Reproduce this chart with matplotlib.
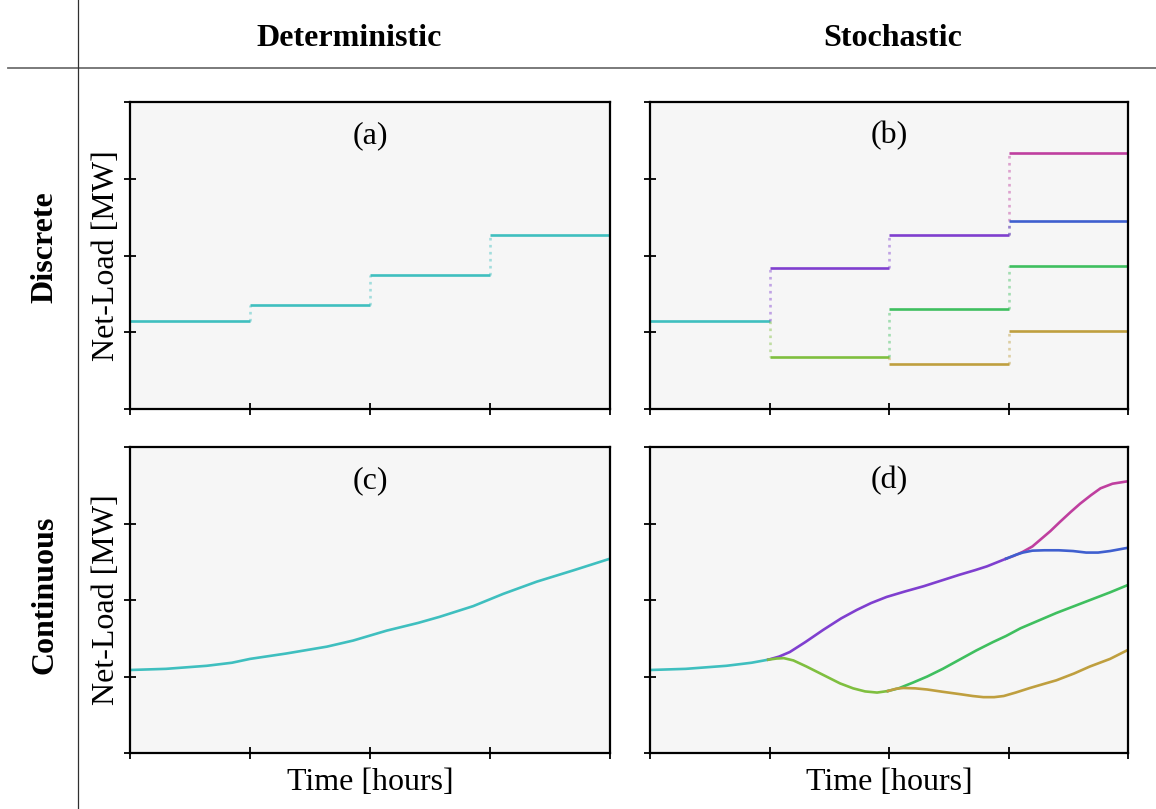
import matplotlib
matplotlib.use("Agg")
import matplotlib.pyplot as plt
from matplotlib.lines import Line2D

plt.rcParams['font.family'] = ['Liberation Serif', 'DejaVu Serif']

# colores de cada escenario
c_cyan = '#3fbfbf'
c_purple = '#7f3fcf'
c_lime = '#7fbf3f'
c_green = '#3fbf5f'
c_gold = '#bf9f3f'
c_magenta = '#bf3f9f'
c_blue = '#3f5fcf'

col_titles = ['Deterministic', 'Stochastic']
row_titles = ['Discrete', 'Continuous']
panel_tags = ['(a)', '(b)', '(c)', '(d)']
ylab = 'Net-Load [MW]'
xlab = 'Time [hours]'

# (a) escalones deterministas: un valor por hora
det_steps = [1.15, 1.36, 1.75, 2.27]

# (b) arbol de escenarios discreto: (hora inicio, valor, color, valor del padre)
sto_steps = [
    (0, 1.15, c_cyan, None),
    (1, 1.84, c_purple, 1.15),
    (1, 0.68, c_lime, 1.15),
    (2, 2.27, c_purple, 1.84),
    (2, 1.30, c_green, 0.68),
    (2, 0.59, c_gold, 0.68),
    (3, 3.34, c_magenta, 2.27),
    (3, 2.45, c_blue, 2.27),
    (3, 1.86, c_green, 1.30),
    (3, 1.02, c_gold, 0.59),
]

# (c) curva continua determinista
c_x = [0, 0.3, 0.64, 0.85, 1.0, 1.3, 1.64, 1.86, 2.14, 2.4, 2.58, 2.86, 3.11, 3.39, 3.7, 4.0]
c_y = [1.085, 1.10, 1.14, 1.18, 1.23, 1.30, 1.39, 1.47, 1.60, 1.70, 1.78, 1.92, 2.08, 2.24, 2.39, 2.54]

# (d) curvas continuas estocasticas
cyan_x = [0, 0.3, 0.64, 0.85, 0.99]
cyan_y = [1.085, 1.10, 1.14, 1.18, 1.22]
purple_x = [0.99, 1.08, 1.17, 1.30, 1.45, 1.60, 1.73, 1.85, 1.98, 2.13, 2.29,
            2.45, 2.59, 2.72, 2.82, 2.90, 2.98]
purple_y = [1.22, 1.26, 1.32, 1.45, 1.61, 1.76, 1.87, 1.96, 2.04, 2.11, 2.18,
            2.26, 2.33, 2.39, 2.44, 2.49, 2.54]
magenta_x = [2.98, 3.05, 3.12, 3.20, 3.26, 3.35, 3.43, 3.52, 3.60, 3.69, 3.77, 3.87, 3.99]
magenta_y = [2.54, 2.58, 2.63, 2.70, 2.78, 2.90, 3.02, 3.15, 3.26, 3.37, 3.46, 3.52, 3.55]
blue_x = [2.98, 3.06, 3.12, 3.20, 3.30, 3.42, 3.54, 3.65, 3.75, 3.85, 3.99]
blue_y = [2.54, 2.59, 2.62, 2.645, 2.65, 2.65, 2.64, 2.62, 2.62, 2.64, 2.68]
lime_x = [0.99, 1.06, 1.12, 1.20, 1.31, 1.45, 1.59, 1.70, 1.80, 1.90, 1.99]
lime_y = [1.22, 1.235, 1.24, 1.21, 1.13, 1.02, 0.91, 0.845, 0.805, 0.79, 0.81]
green_x = [1.99, 2.08, 2.20, 2.32, 2.45, 2.59, 2.73, 2.87, 2.98, 3.10, 3.25,
           3.40, 3.55, 3.70, 3.85, 3.99]
green_y = [0.81, 0.845, 0.92, 1.00, 1.10, 1.22, 1.34, 1.45, 1.53, 1.63, 1.73,
           1.83, 1.92, 2.01, 2.10, 2.19]
gold_x = [1.99, 2.06, 2.12, 2.22, 2.32, 2.45, 2.59, 2.70, 2.79, 2.88, 2.96,
          3.06, 3.18, 3.30, 3.40, 3.55, 3.68, 3.85, 3.99]
gold_y = [0.81, 0.84, 0.85, 0.845, 0.83, 0.80, 0.77, 0.745, 0.73, 0.73, 0.745,
          0.79, 0.85, 0.905, 0.95, 1.04, 1.13, 1.23, 1.34]

W, H = 1156, 809
fig = plt.figure(figsize=(W / 100, H / 100), dpi=100)

def px_axes(l, t, r, b):
    return fig.add_axes([l / W, 1 - b / H, (r - l) / W, (b - t) / H])

ax_a = px_axes(130, 102, 610, 409)
ax_b = px_axes(650, 102, 1128, 409)
ax_c = px_axes(130, 447, 610, 753)
ax_d = px_axes(650, 447, 1128, 753)
axes = [ax_a, ax_b, ax_c, ax_d]

lw = 1.9
for ax, tag in zip(axes, panel_tags):
    ax.set_facecolor('#f6f6f6')
    ax.set_xlim(0, 4)
    ax.set_ylim(0, 4)
    ax.set_xticks([0, 1, 2, 3, 4])
    ax.set_yticks([0, 1, 2, 3, 4])
    ax.set_xticklabels([])
    ax.set_yticklabels([])
    ax.tick_params(direction='inout', length=8, width=1.3, color='black')
    for s in ax.spines.values():
        s.set_linewidth(1.6)
    ax.text(0.5, 0.89, tag, transform=ax.transAxes, ha='center', va='center',
            fontsize=23)

# (a)
for i, v in enumerate(det_steps):
    ax_a.plot([i, i + 1], [v, v], color=c_cyan, lw=lw, solid_capstyle='butt')
    if i > 0:
        ax_a.plot([i, i], [det_steps[i - 1], v], color=c_cyan, lw=lw,
                  ls=':', alpha=0.45)

# (b)
for t0, v, col, parent in sto_steps:
    ax_b.plot([t0, t0 + 1], [v, v], color=col, lw=lw, solid_capstyle='butt')
    if parent is not None:
        ax_b.plot([t0, t0], [parent, v], color=col, lw=lw, ls=':', alpha=0.45)

# (c)
ax_c.plot(c_x, c_y, color=c_cyan, lw=lw)

# (d)
ax_d.plot(cyan_x, cyan_y, color=c_cyan, lw=lw)
ax_d.plot(purple_x, purple_y, color=c_purple, lw=lw)
ax_d.plot(magenta_x, magenta_y, color=c_magenta, lw=lw)
ax_d.plot(blue_x, blue_y, color=c_blue, lw=lw)
ax_d.plot(lime_x, lime_y, color=c_lime, lw=lw)
ax_d.plot(green_x, green_y, color=c_green, lw=lw)
ax_d.plot(gold_x, gold_y, color=c_gold, lw=lw)

ax_a.set_ylabel(ylab, fontsize=23, labelpad=-1)
ax_c.set_ylabel(ylab, fontsize=23, labelpad=-1)
ax_c.set_xlabel(xlab, fontsize=23, labelpad=3)
ax_d.set_xlabel(xlab, fontsize=23, labelpad=3)

# encabezados de la tabla
fig.text(349 / W, 1 - 38 / H, col_titles[0], ha='center', va='center',
         fontsize=23, fontweight='bold')
fig.text(893 / W, 1 - 38 / H, col_titles[1], ha='center', va='center',
         fontsize=23, fontweight='bold')
fig.text(45 / W, 1 - 247 / H, row_titles[0], ha='center', va='center',
         rotation=90, fontsize=23, fontweight='bold')
fig.text(45 / W, 1 - 595 / H, row_titles[1], ha='center', va='center',
         rotation=90, fontsize=23, fontweight='bold')

fig.add_artist(Line2D([8 / W, 1], [1 - 68 / H, 1 - 68 / H], color='#707070',
                      lw=1.3, transform=fig.transFigure))
fig.add_artist(Line2D([78 / W, 78 / W], [0, 1], color='#303030',
                      lw=0.9, transform=fig.transFigure))

fig.savefig('out.png', dpi=100)
